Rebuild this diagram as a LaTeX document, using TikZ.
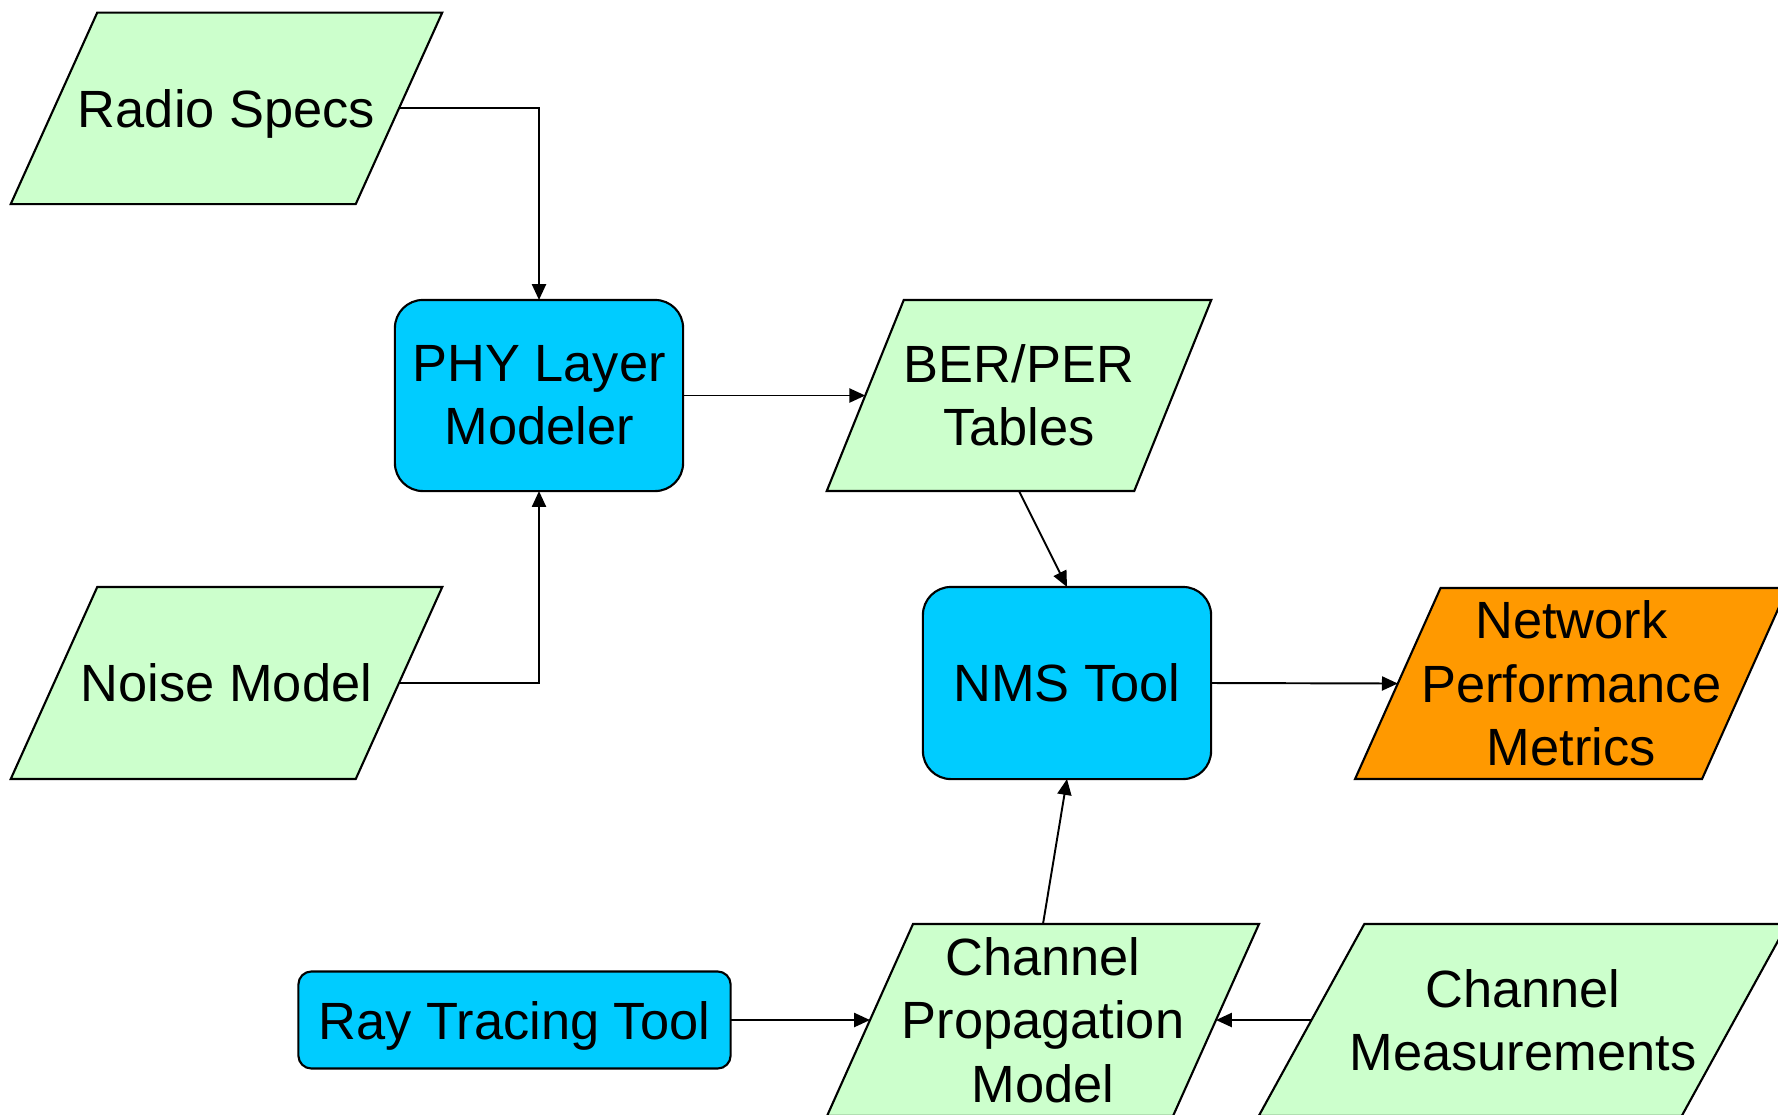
\documentclass[tikz,border=0pt]{standalone}
\usepackage{fontspec}
\setmainfont{Liberation Sans}
\usetikzlibrary{arrows.meta}
\definecolor{datagreen}{HTML}{CCFFCC}
\definecolor{toolblue}{HTML}{00CCFF}
\definecolor{outorange}{HTML}{FF9900}
\tikzset{
  txt/.style={font=\fontsize{14.9pt}{18pt}\selectfont, align=center, text=black},
  paraedge/.style={draw=black, line width=0.6pt, line join=miter},
  paranode/.style={rectangle, draw=none, fill=none, outer sep=0pt, inner sep=0pt, txt},
  toolbox/.style={rectangle, rounded corners=0.28cm, draw=black, line width=0.6pt,
    fill=toolblue, outer sep=0pt, inner sep=2pt, txt},
  arr/.style={draw=black, line width=0.55pt, -{Triangle[length=4.5pt,width=4pt]}},
}
% #1 name, #2 cx, #3 cy, #4 width, #5 height, #6 slant, #7 fill, #8 text
\newcommand\dataPara[8]{%
  \filldraw[paraedge, fill=#7]
    ({#2-(#4+#6)/2},{#3+#5/2}) -- ({#2+(#4-#6)/2},{#3+#5/2}) --
    ({#2+(#4+#6)/2},{#3-#5/2}) -- ({#2-(#4-#6)/2},{#3-#5/2}) -- cycle;
  \node[paranode, minimum width={#4*0.01cm}, minimum height={#5*0.01cm}] (#1) at (#2,#3) {#8};
}
\begin{document}
\begin{tikzpicture}[x=0.01cm,y=-0.01cm]
\useasboundingbox (0,0) rectangle (1778,1114);
\clip (0,0) rectangle (1778,1114);
\fill[white] (0,0) rectangle (1778,1114);

% data parallelograms
\dataPara{rs}{226.5}{108.3}{345}{191.5}{86.5}{datagreen}{\raisebox{0pt}[\height][0pt]{Radio Specs}}
\dataPara{nm}{226.5}{683}{345}{192}{86.5}{datagreen}{Noise Model}
\dataPara{ber}{1019}{395.5}{307.5}{191}{77}{datagreen}{BER/PER\\Tables}
\dataPara{npm}{1571.3}{683.5}{347}{191}{85.5}{outorange}{Network\\Performance\\Metrics}
\dataPara{cpm}{1043}{1020}{346}{192}{86}{datagreen}{Channel\\Propagation\\Model}
\dataPara{cm}{1523}{1020}{423}{192}{105.6}{datagreen}{Channel\\Measurements}

% tool boxes
\node[toolbox, minimum width=2.88cm, minimum height=1.91cm] (phy) at (539,395.5) {PHY Layer\\Modeler};
\node[toolbox, minimum width=2.88cm, minimum height=1.92cm] (nms) at (1067,683) {NMS Tool};
\node[toolbox, rounded corners=0.13cm, minimum width=4.32cm, minimum height=0.97cm] (rtt) at (514.5,1020) {\raisebox{0pt}[\height][0pt]{Ray Tracing Tool}};

% connectors
\draw[arr] (rs.east) -| (phy.north);
\draw[arr] (nm.east) -| (phy.south);
\draw[arr] (phy.east) -- (ber.west);
\draw[arr] (ber.south) -- (nms.north);
\draw[arr] (nms.east) -- (npm.west);
\draw[arr] (cpm.north) -- (nms.south);
\draw[arr] (rtt.east) -- (cpm.west);
\draw[arr] (cm.west) -- (cpm.east);
\end{tikzpicture}
\end{document}
